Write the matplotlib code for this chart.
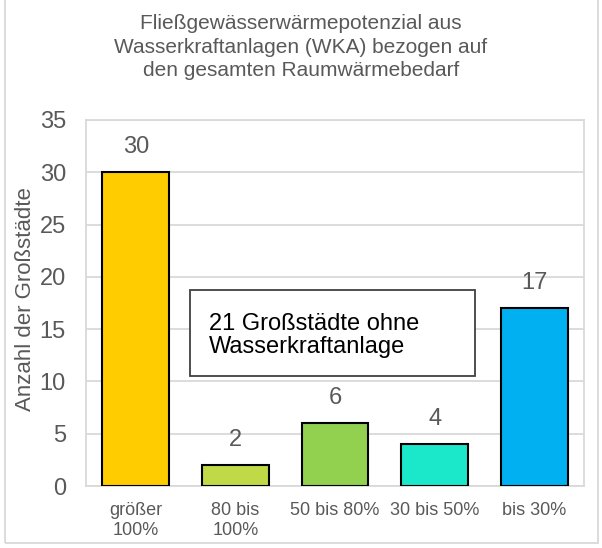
import matplotlib.pyplot as plt
from matplotlib.patches import Rectangle

categories = ['größer\n100%', '80 bis\n100%', '50 bis 80%', '30 bis 50%', 'bis 30%']
values = [30, 2, 6, 4, 17]
colors = ['#FFCC00', '#BFD947', '#92D050', '#1BE8CB', '#00B0F0']
yticks = [0, 5, 10, 15, 20, 25, 30, 35]

title = 'Fließgewässerwärmepotenzial aus\nWasserkraftanlagen (WKA) bezogen auf\nden gesamten Raumwärmebedarf'
ylabel = 'Anzahl der Großstädte'
note = '21 Großstädte ohne\nWasserkraftanlage'

plt.rcParams['font.family'] = ['Liberation Sans', 'DejaVu Sans']
grey = '#595959'

fig = plt.figure(figsize=(6.02, 5.48), dpi=100)
ax = fig.add_axes([0.1429, 0.1131, 0.8271, 0.668])

x = list(range(len(categories)))
ax.bar(x, values, width=0.67, color=colors, edgecolor='black', linewidth=1.5, zorder=3)

for xi, v in zip(x, values):
    ax.annotate(str(v), (xi, v), xytext=(0, 18), textcoords='offset points',
                ha='center', va='center', fontsize=17, color=grey)

ax.set_xlim(-0.5, 4.5)
ax.set_ylim(0, 35)
ax.set_yticks(yticks)
ax.set_xticks(x)
ax.set_xticklabels(categories, fontsize=13, color=grey, linespacing=1.2)
ax.tick_params(axis='y', labelsize=17, labelcolor=grey, length=0, pad=14.5)
ax.tick_params(axis='x', length=0, pad=11.5)
ax.grid(axis='y', color='#D9D9D9', linewidth=1.3, zorder=0)
for s in ax.spines.values():
    s.set_color('#D9D9D9')
    s.set_linewidth(1.3)

ax.set_ylabel(ylabel, fontsize=16, color=grey)
ax.yaxis.set_label_coords(-0.100, 0.51)

# Textfeld
ax.add_patch(Rectangle((0.544, 10.52), 2.862, 8.22, facecolor='white',
                       edgecolor='#404040', linewidth=1.3, zorder=4))
ax.text(0.735, 14.4, note, fontsize=17, color='black', va='center', ha='left',
        linespacing=1.1, zorder=5)

fig.text(0.5, 0.914, title, ha='center', va='center', fontsize=15, color=grey,
         linespacing=1.32)

# Rahmen
fig.patches.append(Rectangle((0.009, 0.009), 0.985, 0.995, transform=fig.transFigure,
                             fill=False, edgecolor='#D9D9D9', linewidth=1.3))

fig.savefig('out.png', dpi=100)
